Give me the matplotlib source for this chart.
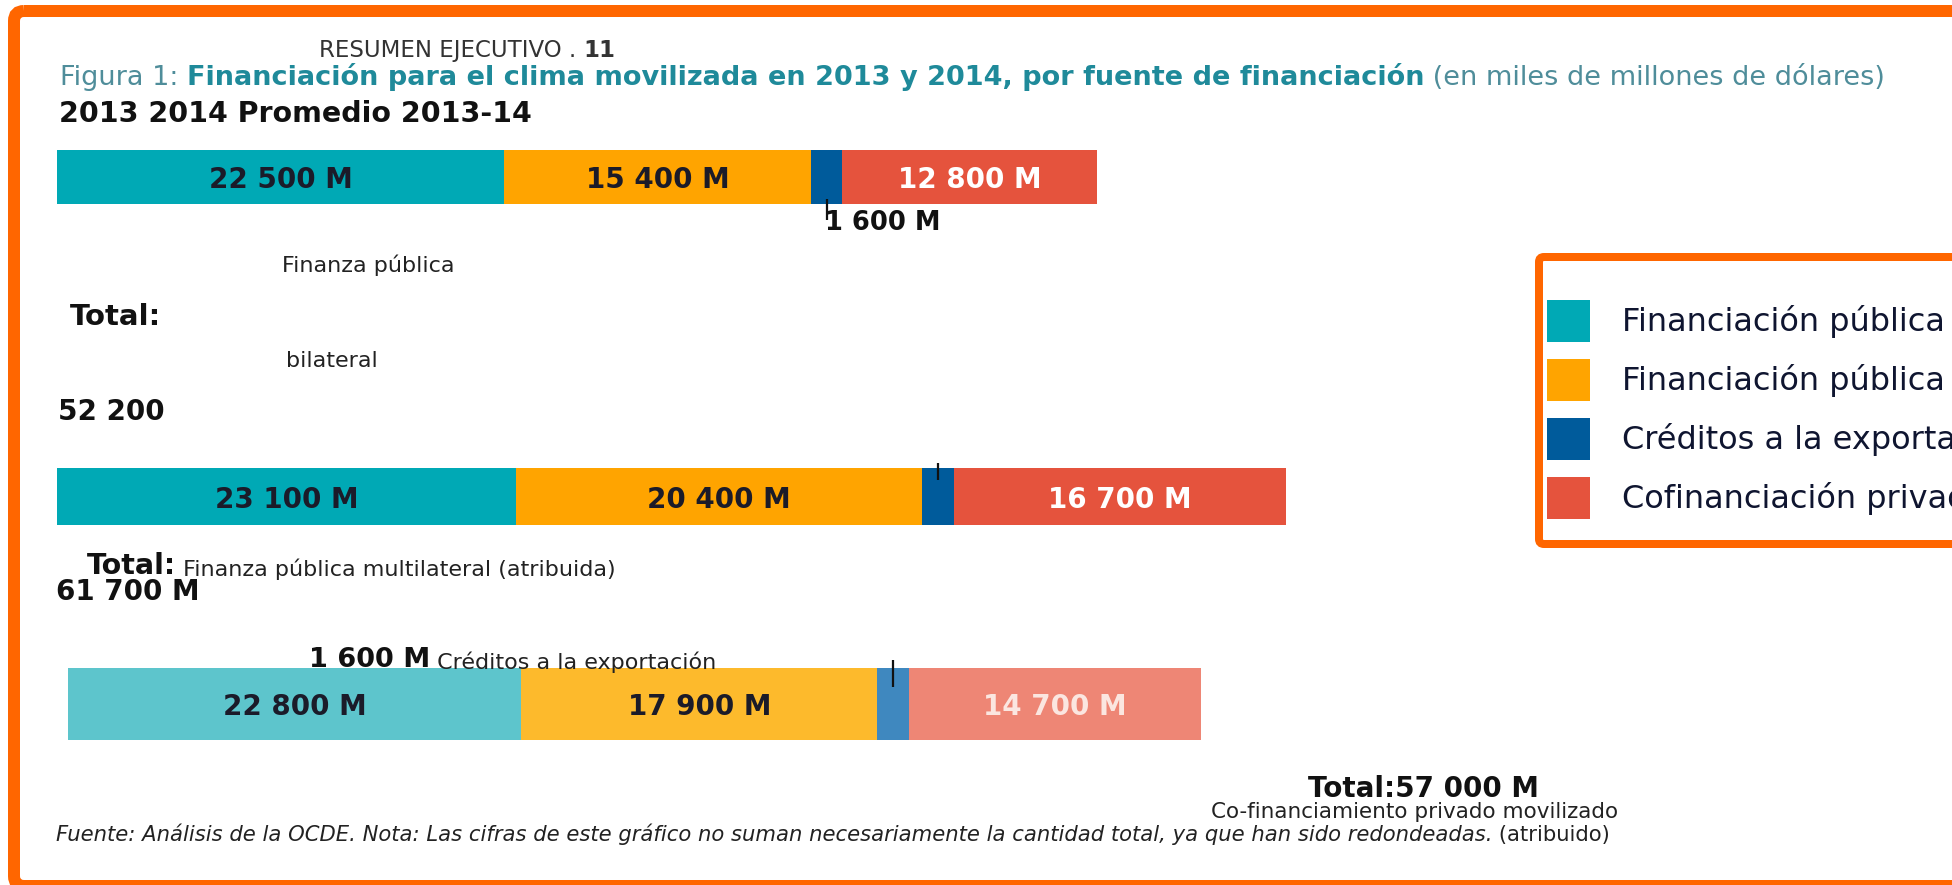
import matplotlib
import numpy as np

matplotlib.use("Agg")
import matplotlib.pyplot as plt
from matplotlib.patches import FancyBboxPatch


years = ["2013", "2014", "Promedio 2013-14"]
sources = [
    "Financiación pública bilateral",
    "Financiación pública multilateral (atribuida)",
    "Créditos a la exportación",
    "Cofinanciación privada movilizada (atribuida)",
]
bilateral = [22500, 23100, 22800]
multilateral = [15400, 20400, 17900]
export_credits = [1600, 1600, 1600]
private_cofinance = [12800, 16700, 14700]
totals = [52200, 61700, 57000]

# styling
dark_colors = ["#00A9B5", "#FFA400", "#005B9B", "#E5533D"]
light_colors = ["#5DC5CC", "#FDBA2C", "#3F88BF", "#EE8675"]
label_dark = "#1b1b29"
orange = "#FF6600"

W, H = 1952, 885
X0 = 57                      # pixel where a bar starts
K = 1040 / 52300             # pixels per million
row_y = [177, 496.5, 704]
row_h = [54, 57, 72]
row_shift = [0, 0, 11]
tick_span = [(199, 220), (463, 480), (660, 687)]


def fmt(v):
    return f"{v:,}".replace(",", " ")


fig = plt.figure(figsize=(W / 100, H / 100), dpi=100, facecolor="white")

ax = fig.add_axes([0, 0, 1, 1])
ax.set_xlim(-X0 / K, (W - X0) / K)
ax.set_ylim(H, 0)
ax.axis("off")

values = np.array([bilateral, multilateral, export_credits, private_cofinance], dtype=float)
lefts = np.array(row_shift, dtype=float) / K
handles = []
blue_mid = None
for i, series in enumerate(values):
    colors = [dark_colors[i], dark_colors[i], light_colors[i]]
    bars = ax.barh(row_y, series, left=lefts, height=row_h, color=colors,
                   linewidth=0, label=sources[i])
    handles.append(bars)
    if i == 2:
        blue_mid = lefts + series / 2
    else:
        for j, v in enumerate(series):
            if i == 3:
                tc = "white" if j < 2 else "#FBE6E0"
            else:
                tc = label_dark
            ax.text(lefts[j] + v / 2, row_y[j], f"{fmt(int(v))} M", ha="center",
                    va="center_baseline", fontsize=20, fontweight="bold", color=tc)
    lefts = lefts + series

for j in range(3):
    ax.vlines(blue_mid[j], tick_span[j][0], tick_span[j][1], color="#111111", lw=1.6)

# text layer in pixel coordinates
cv = fig.add_axes([0, 0, 1, 1], zorder=3)
cv.set_xlim(0, W)
cv.set_ylim(H, 0)
cv.axis("off")
cv.patch.set_alpha(0)

t = cv.text(319, 57, "RESUMEN EJECUTIVO . ", fontsize=16.5, color="#333333", va="baseline")
cv.annotate("11", xy=(1, 0), xycoords=t, va="bottom", fontsize=16.5,
            fontweight="bold", color="#333333")

t = cv.text(60, 85, "Figura 1: ", fontsize=19.5, color="#4f8d9a", va="baseline")
t = cv.annotate("Financiación para el clima movilizada en 2013 y 2014, por fuente de financiación",
                xy=(1, 0), xycoords=t, va="bottom", fontsize=19.5,
                fontweight="bold", color="#1f8a9a")
cv.annotate(" (en miles de millones de dólares)", xy=(1, 0), xycoords=t, va="bottom",
            fontsize=19.5, color="#4f8d9a")

cv.text(59, 122, " ".join(years), fontsize=20.5, fontweight="bold", color="#111111",
        va="baseline")

cv.text(825, 230, f"{fmt(export_credits[0])} M", fontsize=18.5, fontweight="bold",
        color="#111111", va="baseline")

cv.text(282, 272, "Finanza pública", fontsize=16, color="#222222", va="baseline")
cv.text(70, 325, "Total:", fontsize=21, fontweight="bold", color="#111111", va="baseline")
cv.text(286, 367, "bilateral", fontsize=16, color="#222222", va="baseline")
cv.text(58, 420, fmt(totals[0]), fontsize=20, fontweight="bold", color="#111111",
        va="baseline")

t = cv.text(87, 574, "Total:", fontsize=20.5, fontweight="bold", color="#111111",
            va="baseline")
cv.annotate(" Finanza pública multilateral (atribuida)", xy=(1, 0), xycoords=t,
            va="bottom", fontsize=16, color="#222222")
cv.text(56, 600, f"{fmt(totals[1])} M", fontsize=20, fontweight="bold", color="#111111",
        va="baseline")

t = cv.text(309, 667, f"{fmt(export_credits[2])} M", fontsize=19.5, fontweight="bold",
            color="#111111", va="baseline")
cv.annotate(" Créditos a la exportación", xy=(1, 0), xycoords=t, va="bottom",
            fontsize=16, color="#222222")

cv.text(1423, 797, f"Total:{fmt(totals[2])} M", fontsize=20, fontweight="bold",
        color="#111111", va="baseline", ha="center")
cv.text(1415, 818, "Co-financiamiento privado movilizado", fontsize=15.5,
        color="#222222", va="baseline", ha="center")

t = cv.text(56, 841, "Fuente: Análisis de la OCDE. Nota: Las cifras de este gráfico no suman "
            "necesariamente la cantidad total, ya que han sido redondeadas.",
            fontsize=15.2, style="italic", color="#222222", va="baseline")
cv.annotate(" (atribuido)", xy=(1, 0), xycoords=t, va="bottom", fontsize=15.2,
            color="#222222")

# frames
cv.add_patch(FancyBboxPatch((14, 11), 2100, 875, boxstyle="round,pad=0,rounding_size=10",
                            fc="none", ec=orange, lw=12 * 0.72))
cv.add_patch(FancyBboxPatch((1539, 257), 800, 287, boxstyle="round,pad=0,rounding_size=5",
                            fc="white", ec=orange, lw=8 * 0.72, zorder=1))

fig.legend(handles=handles, labels=sources, loc="upper left",
           bbox_to_anchor=(1547 / W, 1 - 300 / H), frameon=False, fontsize=23,
           handlelength=1.34, handleheight=1.643, handletextpad=1.0, labelspacing=0.53,
           borderpad=0, borderaxespad=0, labelcolor="#0f1530")

fig.savefig("out.png", dpi=100, facecolor="white")
